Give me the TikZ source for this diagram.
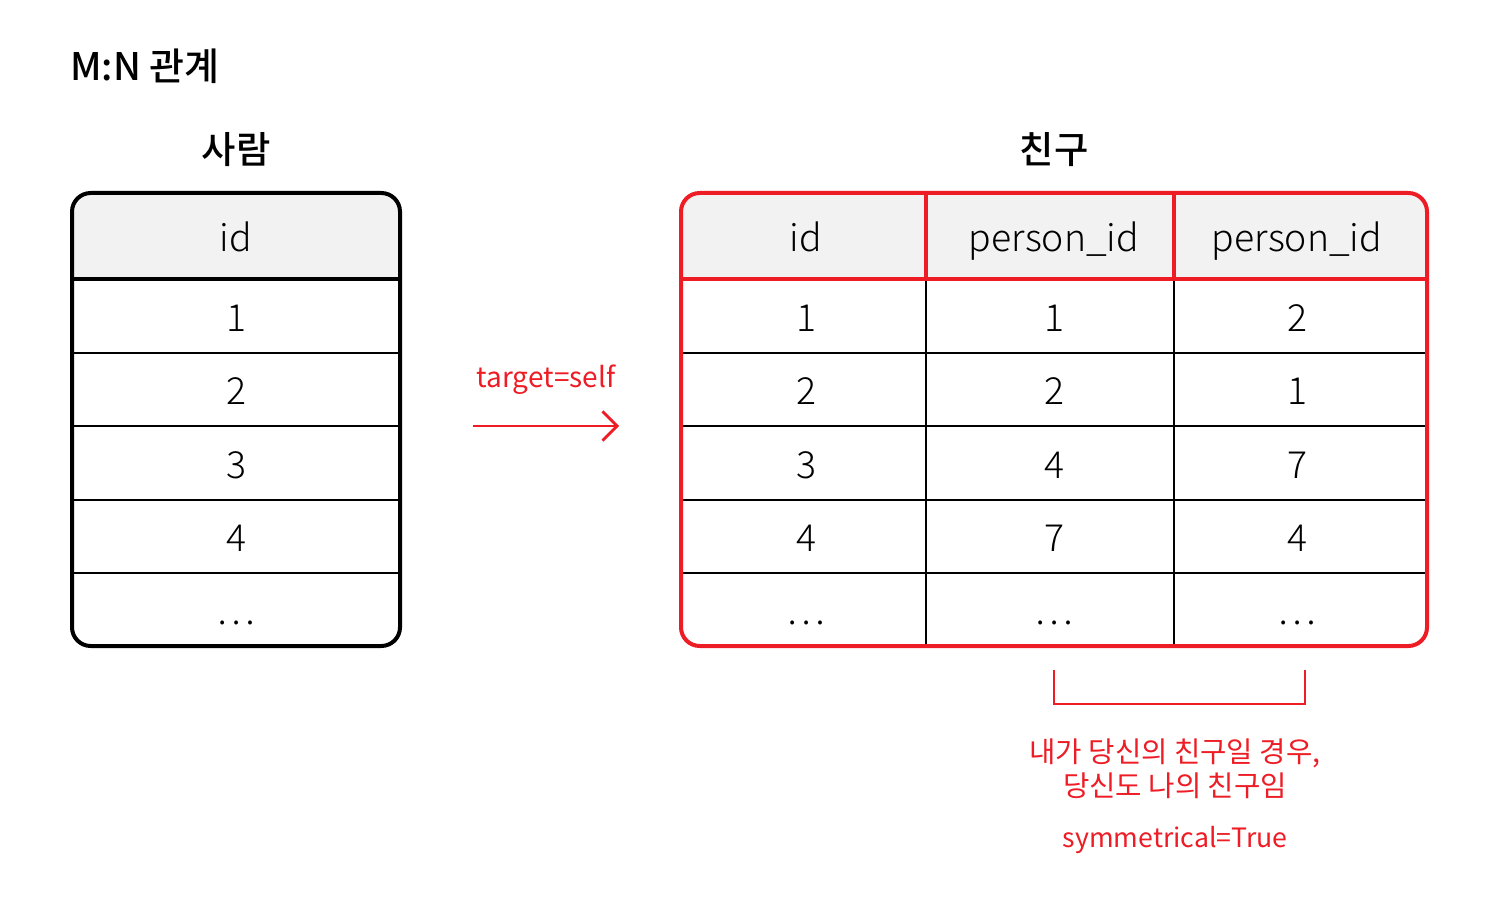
\documentclass[tikz,border=0pt]{standalone}
\usepackage{fontspec}
\setmainfont{Noto Sans CJK KR}
\newfontfamily\lightfont{Noto Sans CJK KR Light}
\newfontfamily\mediumfont{Noto Sans CJK KR Medium}
\usetikzlibrary{arrows.meta}
\definecolor{friendred}{HTML}{EE1C25}
\definecolor{headgray}{HTML}{F2F2F2}

\begin{document}
\begin{tikzpicture}[x=0.75pt, y=-0.75pt,
  cell/.style={font=\lightfont\fontsize{28}{30}\selectfont, text height=0.72em, text depth=0pt, inner sep=0pt, yshift=-8pt},
  tabletitle/.style={font=\mediumfont\fontsize{28}{30}\selectfont, inner sep=0pt},
  note/.style={text=friendred, font=\fontsize{21}{25.5}\selectfont, align=center, inner sep=0pt},
  gridline/.style={line width=1.5pt},
  border/.style={line width=3pt, rounded corners=14pt}]

  \useasboundingbox[fill=white] (0,0) rectangle (1508,898);

  \coordinate (l0) at (72,193);   % person table top left
  \coordinate (l1) at (400,646);  % person table bottom right
  \coordinate (r0) at (681,193);  % friend table top left
  \coordinate (r1) at (1427,646); % friend table bottom right

  \coordinate (a0) at (473,426);  % arrow tail
  \coordinate (a1) at (619,426);  % arrow head

  \coordinate (br0) at (1054,670);
  \coordinate (br1) at (1054,704);
  \coordinate (br2) at (1305,704);
  \coordinate (br3) at (1305,670);

  % title
  \node[font=\mediumfont\fontsize{28.5}{30}\selectfont, anchor=west, inner sep=0pt] (title) at (70,66) {M:N 관계};
  \node[tabletitle] (personname) at (236,150) {사람};
  \node[tabletitle] (friendname) at (1054,150) {친구};

  % person table header
  \begin{scope}
    \clip (72,193) rectangle (400,279);
    \fill[headgray, rounded corners=14pt] (l0) rectangle (400,330);
  \end{scope}
  \foreach \y in {353,426,500,573}
    \draw[gridline] (72,\y) -- (400,\y);
  \draw[line width=3pt] (72,279) -- (400,279);
  \draw[border] (l0) rectangle (l1);

  % friend table header
  \begin{scope}
    \clip (681,193) rectangle (1427,279);
    \fill[headgray, rounded corners=14pt] (r0) rectangle (1427,330);
  \end{scope}
  \foreach \y in {353,426,500,573}
    \draw[gridline] (681,\y) -- (1427,\y);
  \foreach \x in {926,1174} {
    \draw[gridline] (\x,279) -- (\x,646);
    \draw[line width=3pt, friendred] (\x,193) -- (\x,279);
  }
  \draw[line width=3pt, friendred] (681,279) -- (1427,279);
  \draw[border, friendred] (r0) rectangle (r1);

  % cells
  \node[cell] (pid) at (236,236) {id};
  \foreach \v/\y [count=\i] in {1/316, 2/389, 3/463, 4/536, \dots/609}
    \node[cell] (p\i) at (236,\y) {\v};

  \node[cell] (fid) at (806,236) {id};
  \node[cell] (fpa) at (1054,236) {person\_id};
  \node[cell] (fpb) at (1297,236) {person\_id};
  \foreach \a/\b/\c/\y [count=\i] in {1/1/2/316, 2/2/1/389, 3/4/7/463, 4/7/4/536, \dots/\dots/\dots/609} {
    \node[cell] (fa\i) at (806,\y) {\a};
    \node[cell] (fb\i) at (1054,\y) {\b};
    \node[cell] (fc\i) at (1297,\y) {\c};
  }

  % self reference arrow
  \draw[friendred, line width=1.5pt, -{Straight Barb[length=11pt, width=22pt, line width=2pt]}] (a0) -- (a1);
  \node[note] (targetlabel) at (546,380) {target=self};

  % symmetric bracket
  \draw[friendred, line width=1.5pt] (br0) -- (br1) -- (br2) -- (br3);
  \node[note, font=\fontsize{21.5}{25.5}\selectfont] (symnote) at (1175,769) {내가 당신의 친구일 경우,\\당신도 나의 친구임};
  \node[note, font=\fontsize{20}{24}\selectfont] (symflag) at (1175,840) {symmetrical=True};
\end{tikzpicture}
\end{document}
